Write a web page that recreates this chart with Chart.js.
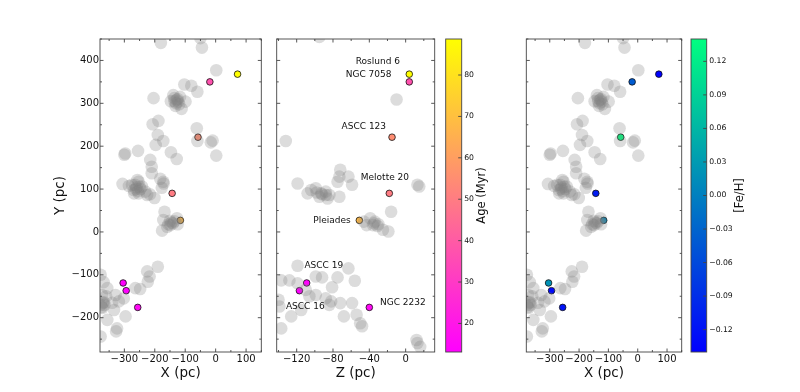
<!DOCTYPE html>
<html><head><meta charset="utf-8">
<script src="https://cdn.jsdelivr.net/npm/chart.js@4/dist/chart.umd.min.js"></script>
<style>
html,body{margin:0;padding:0;background:#fff;}
#wrap{position:relative;width:800px;height:392px;overflow:hidden;background:#fff;}
#wrap canvas{position:absolute;top:0;}
</style></head><body><div id="wrap"></div>
<script>
// ---------------- DATA ----------------
const clusterNames = ['Roslund 6','NGC 7058','ASCC 123','Melotte 20','Pleiades','ASCC 19','ASCC 16','NGC 2232'];
const clusterX   = [72, -19, -58, -143, -116, -304, -294, -256];
const clusterY   = [368, 350, 221, 90, 27, -119, -137, -176];
const clusterZ   = [4, 4, -15, -18, -51, -109, -117, -40];
const clusterAge = [88.7, 37, 55, 50, 68, 13.4, 13.1, 16];
const clusterFeH = [-0.14, -0.04, 0.14, -0.11, 0.01, 0.02, -0.13, -0.12];

// background field stars (X-Y plane)
const fieldX = [-180,-50,-45,2,-103,-80,-60,-139,-117,-147,-123,-99,-132,-112,-136,-128,-125,-130,-120,-135,-204,-207,-188,-190,-172,-197,-62,-60,-16,-10,2,-297,-300,-255,-147,-128,-215,-210,-210,-182,-172,-177,-171,
  -306,-285,-275,-257,-253,-242,-247,-269,-253,-231,-225,-216,-201,-268,-260,-262,-255,-250,-265,
  -168,-172,-176,-149,-127,-125,-140,-159,-150,-145,-155,-135,
  -190,-225,-217,-223,-248,-264,-378,-368,-356,-373,-367,-378,-375,-329,-318,-334,-356,-324,-327,-296,-378,-302,-340,-372,-360,-370,-365];
const fieldY = [441,452,430,377,344,341,327,319,315,305,304,304,294,287,312,308,310,300,298,305,312,251,259,226,212,203,242,212,209,213,178,183,180,189,186,170,168,152,137,124,117,103,113,
  112,107,110,121,117,106,100,98,90,94,86,88,79,90,104,100,95,105,110,
  47,28,3,16,32,18,20,12,26,22,18,25,
  -81,-92,-104,-116,-133,-131,-100,-117,-131,-147,-164,-170,-175,-147,-162,-182,-205,-225,-232,-197,-244,-155,-165,-177,-150,-165,-170];

// background field stars (Z-Y plane)
const fieldZ = [-95,-10,-132,-72,-73,-63,-75,-59,-119,-104,-99,-93,-88,-84,-86,-73,-95,-108,-92,-98,-88,13,15,
  -16,-39,-34,-43,-31,-25,-19,-36,-46,-35,-30,
  -119,-128,-119,-137,-99,-92,-75,-63,-56,-81,-110,-99,-106,-88,-82,-72,-84,-59,-115,-126,-140,-139,-137,-68,-54,-50,-48,12,13,16];
const fieldYZ = [455,309,212,145,129,129,117,110,113,98,102,90,94,86,78,82,82,90,88,92,86,110,106,
  47,32,24,16,14,5,1,16,24,20,18,
  -79,-113,-120,-113,-104,-106,-106,-85,-114,-129,-135,-147,-150,-155,-162,-166,-170,-166,-182,-197,-158,-174,-225,-197,-193,-213,-220,-252,-259,-268];

const xTicks   = [-300,-200,-100,0,100];
const yTicks   = [-200,-100,0,100,200,300,400];
const zTicks   = [-120,-80,-40,0];
const ageTicks = [20,30,40,50,60,70,80];
const fehTicks = [-0.12,-0.09,-0.06,-0.03,0,0.03,0.06,0.09,0.12];

// ---------------- STYLE / LAYOUT ----------------
const labelOffsets = [[-31.4,-12.6],[-40.7,-7.6],[-28.2,-10.5],[-4.4,-15.7],[-27.4,0.6],[17.1,-17],[5.9,15.9],[33.5,-4.8]];
const FONT = 'DejaVu Sans';
Chart.defaults.font.family = FONT;
Chart.defaults.color = '#111';

const ageMin = Math.min(...clusterAge), ageMax = Math.max(...clusterAge);
const fehMin = Math.min(...clusterFeH), fehMax = Math.max(...clusterFeH);
const spring = t => `rgb(255,${Math.round(255*t)},${Math.round(255*(1-t))})`;
const winter = t => `rgb(0,${Math.round(255*t)},${Math.round(255*(1-0.5*t))})`;
const ageColors = clusterAge.map(a => spring((a-ageMin)/(ageMax-ageMin)));
const fehColors = clusterFeH.map(f => winter((f-fehMin)/(fehMax-fehMin)));
const minus = s => String(s).replace('-', '\u2212');

const wrap = document.getElementById('wrap');
function makeCanvas(left, width) {
  const c = document.createElement('canvas');
  c.width = width; c.height = 392;
  c.style.left = left + 'px'; c.style.width = width + 'px'; c.style.height = '392px';
  wrap.appendChild(c);
  return c;
}

const frameTicks = {
  id: 'frameTicks',
  afterDraw(chart, args, opts) {
    const {ctx, chartArea: a} = chart;
    ctx.save();
    ctx.strokeStyle = '#444';
    ctx.lineWidth = 0.9;
    const L = 3.5, l = 2;
    const ticksFor = (scale, minor) => {
      const majors = scale.ticks.map(t => t.value);
      const out = majors.map(v => [v, L]);
      if (minor && majors.length > 1) {
        const step = majors[1] - majors[0];
        for (let v = majors[0] - step/2; v >= scale.min; v -= step) out.push([v, l]);
        for (let v = majors[0] + step/2; v <= scale.max; v += step) out.push([v, l]);
      }
      return out;
    };
    ctx.beginPath();
    if (opts.x) {
      const xs = chart.scales.x;
      for (const [v, len] of ticksFor(xs, true)) {
        const p = xs.getPixelForValue(v);
        ctx.moveTo(p, a.bottom); ctx.lineTo(p, a.bottom - len);
        ctx.moveTo(p, a.top); ctx.lineTo(p, a.top + len);
      }
    }
    if (opts.y) {
      const ys = chart.scales.y;
      for (const [v, len] of ticksFor(ys, !opts.cbar)) {
        const p = ys.getPixelForValue(v);
        if (!opts.cbar) { ctx.moveTo(a.left, p); ctx.lineTo(a.left + len, p); }
        ctx.moveTo(a.right, p); ctx.lineTo(a.right - len, p);
      }
    }
    ctx.stroke();
    ctx.strokeRect(a.left, a.top, a.right - a.left, a.bottom - a.top);
    if (opts.title) {
      ctx.fillStyle = '#111';
      ctx.font = `11.5px "${FONT}"`;
      ctx.textAlign = 'center'; ctx.textBaseline = 'middle';
      ctx.translate(a.right + opts.titleDx, (a.top + a.bottom)/2);
      ctx.rotate(-Math.PI/2);
      ctx.fillText(opts.title, 0, 0);
    }
    ctx.restore();
  }
};

const annotate = {
  id: 'annotate',
  afterDatasetsDraw(chart, args, opts) {
    if (!opts.on) return;
    const {ctx} = chart;
    const xs = chart.scales.x, ys = chart.scales.y;
    ctx.save();
    ctx.fillStyle = '#111';
    ctx.font = `9px "${FONT}"`;
    ctx.textAlign = 'center'; ctx.textBaseline = 'middle';
    clusterNames.forEach((n, i) => {
      const px = xs.getPixelForValue(clusterZ[i]) + labelOffsets[i][0];
      const py = ys.getPixelForValue(clusterY[i]) + labelOffsets[i][1];
      ctx.fillText(n, px, py);
    });
    ctx.restore();
  }
};

function scatterPanel(o) {
  const canvas = makeCanvas(o.left, o.width);
  const gray = o.fx.map((v, i) => ({x: v, y: o.fy[i]}));
  const cl = o.cx.map((v, i) => ({x: v, y: o.cy[i]}));
  return new Chart(canvas, {
    type: 'scatter',
    data: { datasets: [
      { data: gray, order: 1, pointRadius: 6.3, pointHoverRadius: 6.3, borderWidth: 0,
        backgroundColor: 'rgba(128,128,128,0.28)' },
      { data: cl, order: 2, pointRadius: 3.3, pointHoverRadius: 3.3, borderWidth: 0.8,
        borderColor: '#111', backgroundColor: o.colors }
    ]},
    options: {
      responsive: false, animation: false, events: [],
      layout: { padding: { left: 0, right: o.padRight, top: 39, bottom: 0 } },
      plugins: { legend: {display: false}, tooltip: {enabled: false},
        frameTicks: { x: true, y: true }, annotate: { on: !!o.annotate } },
      scales: {
        x: { type: 'linear', min: o.xmin, max: o.xmax,
          afterBuildTicks: s => { s.ticks = o.xticks.map(v => ({value: v})); },
          afterFit: s => { s.height = 40; },
          grid: { display: false, drawTicks: false }, border: { display: false },
          ticks: { font: {size: 10}, color: '#111', padding: 1.5, maxRotation: 0, autoSkip: false,
            callback: v => minus(v) },
          title: { display: true, text: o.xtitle, font: {size: 13.5}, color: '#111',
            padding: { top: 0, bottom: 10 } } },
        y: { type: 'linear', min: -280, max: 450,
          afterBuildTicks: s => { s.ticks = yTicks.map(v => ({value: v})); },
          afterFit: s => { s.width = o.yWidth; },
          grid: { display: false, drawTicks: false }, border: { display: false },
          ticks: { display: !!o.ylabels, font: {size: 10}, color: '#111', padding: 1, autoSkip: false,
            callback: v => minus(v) },
          title: { display: !!o.ylabels, text: 'Y (pc)', font: {size: 13.5}, color: '#111',
            padding: { top: 52.2, bottom: 0 } } }
      }
    },
    plugins: [frameTicks, annotate]
  });
}

function colorbar(o) {
  const canvas = makeCanvas(o.left, o.width);
  return new Chart(canvas, {
    type: 'bar',
    data: { labels: [''], datasets: [{
      data: [[o.vmin, o.vmax]], borderWidth: 0, barPercentage: 1, categoryPercentage: 1,
      backgroundColor: c => {
        const ca = c.chart.chartArea;
        if (!ca) return '#888';
        const g = c.chart.ctx.createLinearGradient(0, ca.bottom, 0, ca.top);
        g.addColorStop(0, o.c0); g.addColorStop(1, o.c1);
        return g;
      }
    }]},
    options: {
      responsive: false, animation: false, events: [],
      layout: { padding: { left: o.padLeft, right: 0, top: 39, bottom: 40 } },
      plugins: { legend: {display: false}, tooltip: {enabled: false},
        frameTicks: { y: true, cbar: true, title: o.title, titleDx: o.titleDx } },
      scales: {
        x: { display: false },
        y: { position: 'right', min: o.vmin, max: o.vmax,
          afterBuildTicks: s => { s.ticks = o.ticks.map(v => ({value: v})); },
          afterFit: s => { s.width = o.yWidth; },
          grid: { display: false, drawTicks: false }, border: { display: false },
          ticks: { font: {size: 7.7}, color: '#111', padding: 2.5, autoSkip: false,
            callback: o.fmt } }
      }
    },
    plugins: [frameTicks]
  });
}

// Panel 1: X-Y coloured by age
scatterPanel({ left: 0, width: 268, padRight: 6.7, yWidth: 100, ylabels: true,
  fx: fieldX, fy: fieldY, cx: clusterX, cy: clusterY, colors: ageColors,
  xmin: -380, xmax: 150, xticks: xTicks, xtitle: 'X (pc)' });
// Panel 2: Z-Y coloured by age, labelled
scatterPanel({ left: 268, width: 173, padRight: 3.7, yWidth: 8.7, ylabels: false, annotate: true,
  fx: fieldZ, fy: fieldYZ, cx: clusterZ, cy: clusterY, colors: ageColors,
  xmin: -142, xmax: 32, xticks: zTicks, xtitle: 'Z (pc)' });
// Age colorbar
colorbar({ left: 441, width: 79, padLeft: 4.7, yWidth: 58.3, vmin: ageMin, vmax: ageMax,
  ticks: ageTicks, c0: '#ff00ff', c1: '#ffff00', title: 'Age (Myr)', titleDx: 20,
  fmt: v => String(v) });
// Panel 3: X-Y coloured by [Fe/H]
scatterPanel({ left: 520, width: 168, padRight: 6.3, yWidth: 6.3, ylabels: false,
  fx: fieldX, fy: fieldY, cx: clusterX, cy: clusterY, colors: fehColors,
  xmin: -380, xmax: 150, xticks: xTicks, xtitle: 'X (pc)' });
// [Fe/H] colorbar
colorbar({ left: 688, width: 112, padLeft: 3, yWidth: 93.3, vmin: fehMin, vmax: fehMax,
  ticks: fehTicks, c0: '#0000ff', c1: '#00ff80', title: '[Fe/H]', titleDx: 33.3,
  fmt: v => minus(Number(v).toFixed(2)) });
</script></body></html>
